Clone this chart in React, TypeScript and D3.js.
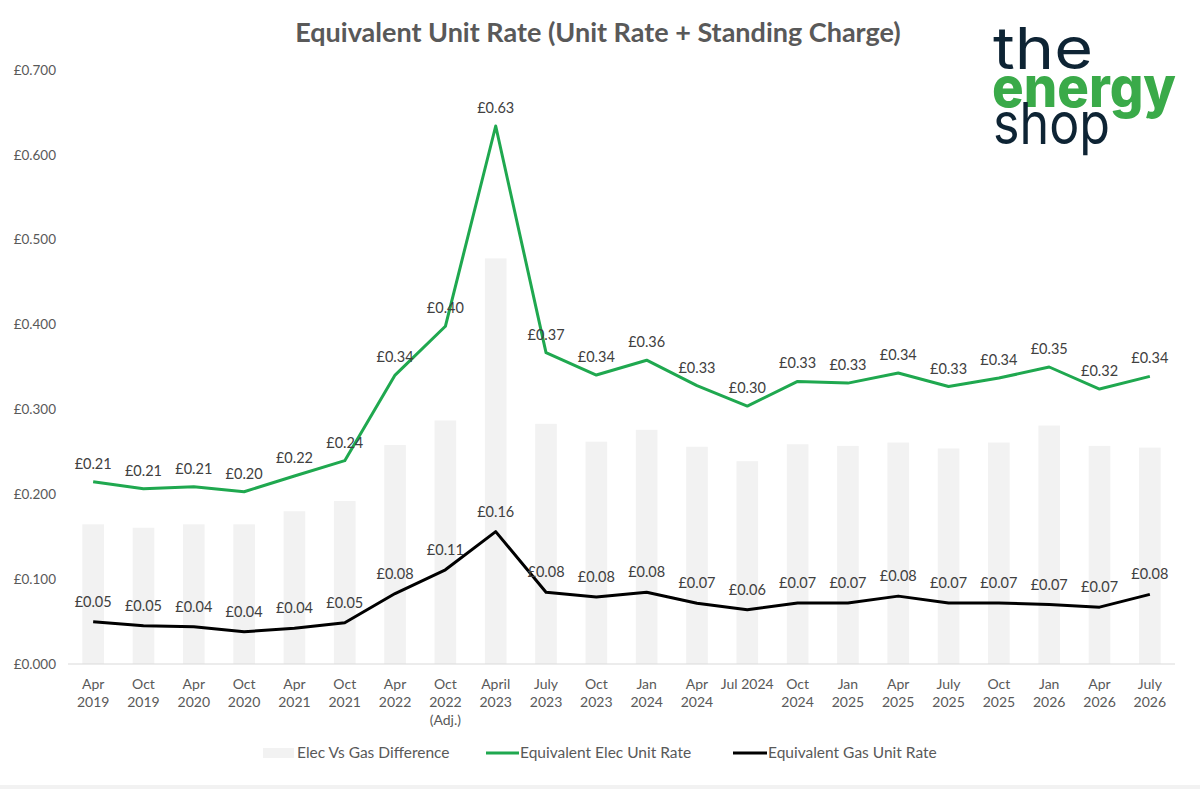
import React from "react";
import * as d3 from "d3";

const categories: string[][] = [
  ["Apr", "2019"], ["Oct", "2019"], ["Apr", "2020"], ["Oct", "2020"],
  ["Apr", "2021"], ["Oct", "2021"], ["Apr", "2022"], ["Oct", "2022", "(Adj.)"],
  ["April", "2023"], ["July", "2023"], ["Oct", "2023"], ["Jan", "2024"],
  ["Apr", "2024"], ["Jul 2024"], ["Oct", "2024"], ["Jan", "2025"],
  ["Apr", "2025"], ["July", "2025"], ["Oct", "2025"], ["Jan", "2026"],
  ["Apr", "2026"], ["July", "2026"],
];

const elecRate = [
  0.2148, 0.2066, 0.209, 0.203, 0.2215, 0.2396, 0.3405, 0.398, 0.634, 0.367, 0.3405,
  0.358, 0.328, 0.304, 0.333, 0.331, 0.343, 0.327, 0.337, 0.35, 0.324, 0.339,
];

const gasRate = [
  0.0499, 0.0452, 0.044, 0.038, 0.042, 0.0487, 0.083, 0.111, 0.156, 0.0845, 0.079,
  0.0845, 0.0715, 0.064, 0.072, 0.072, 0.08, 0.072, 0.072, 0.07, 0.067, 0.082,
];

const difference = [
  0.1646, 0.1606, 0.1646, 0.1646, 0.18, 0.192, 0.258, 0.287, 0.478, 0.283, 0.262,
  0.276, 0.256, 0.239, 0.259, 0.257, 0.261, 0.254, 0.261, 0.281, 0.257, 0.255,
];

const yTicks = [0, 0.1, 0.2, 0.3, 0.4, 0.5, 0.6, 0.7];

const GREEN = "#1fa84f";
const FONT = "Lato, 'Liberation Sans', sans-serif";

export default function App() {
  const width = 1200;
  const height = 789;
  const plot = { left: 68, right: 1175, top: 70, bottom: 664 };

  const x = d3
    .scaleBand<number>()
    .domain(d3.range(categories.length))
    .range([plot.left, plot.right])
    .paddingInner(0.57)
    .paddingOuter(0.285);
  const cx = (i: number) => (x(i) as number) + x.bandwidth() / 2;

  const y = d3.scaleLinear().domain([0, 0.7]).range([plot.bottom, plot.top]);

  const line = d3
    .line<number>()
    .x((_, i) => cx(i))
    .y((d) => y(d));

  const fmt = (v: number) => "£" + v.toFixed(2);

  return (
    <svg
      width={width}
      height={height}
      style={{ position: "absolute", left: 0, top: 0, background: "#fff" }}
      fontFamily={FONT}
    >
      <rect x={0} y={785} width={width} height={4} fill="#f2f2f2" />

      {/* title */}
      <text
        x={598}
        y={42}
        textAnchor="middle"
        fontSize={27}
        fontWeight={700}
        fill="#595959"
      >
        Equivalent Unit Rate (Unit Rate + Standing Charge)
      </text>

      {/* logo */}
      <g fontFamily="Inter, Roboto, sans-serif">
        <text x={993} y={69} fontSize={58} fill="#0e2434" textLength={100} lengthAdjust="spacingAndGlyphs">
          the
        </text>
        <text x={992} y={107} fontSize={56} fontWeight={800} fill="#3aaa49" textLength={184} lengthAdjust="spacingAndGlyphs">
          energy
        </text>
        <text x={993} y={144} fontSize={58} fill="#0e2434" textLength={117} lengthAdjust="spacingAndGlyphs">
          shop
        </text>
      </g>

      {/* y axis labels */}
      {yTicks.map((t) => (
        <text
          key={t}
          x={56}
          y={y(t)}
          dy="0.35em"
          textAnchor="end"
          fontSize={13.5}
          fill="#595959"
        >
          {"£" + t.toFixed(3)}
        </text>
      ))}

      {/* bars */}
      {difference.map((d, i) => (
        <rect
          key={i}
          x={x(i)}
          y={y(d)}
          width={x.bandwidth()}
          height={plot.bottom - y(d)}
          fill="#f2f2f2"
        />
      ))}

      <line x1={plot.left} x2={plot.right} y1={plot.bottom} y2={plot.bottom} stroke="#d9d9d9" strokeWidth={1.2} />

      {/* category labels */}
      {categories.map((lines, i) => (
        <text key={i} x={cx(i)} y={689} textAnchor="middle" fontSize={14} fill="#595959">
          {lines.map((l, j) => (
            <tspan key={j} x={cx(i)} dy={j === 0 ? 0 : 18}>
              {l}
            </tspan>
          ))}
        </text>
      ))}

      {/* lines */}
      <path d={line(elecRate) as string} fill="none" stroke={GREEN} strokeWidth={3} strokeLinejoin="round" />
      <path d={line(gasRate) as string} fill="none" stroke="#000" strokeWidth={3} strokeLinejoin="round" />

      {/* data labels */}
      {elecRate.map((v, i) => (
        <text key={"e" + i} x={cx(i)} y={y(v) - 13} textAnchor="middle" fontSize={14.5} fill="#404040">
          {fmt(v)}
        </text>
      ))}
      {gasRate.map((v, i) => (
        <text key={"g" + i} x={cx(i)} y={y(v) - 15} textAnchor="middle" fontSize={14.5} fill="#404040">
          {fmt(v)}
        </text>
      ))}

      {/* legend */}
      <g fontSize={15.5} fill="#595959">
        <rect x={263} y={748} width={31} height={10} fill="#f2f2f2" />
        <text x={297} y={758}>Elec Vs Gas Difference</text>
        <line x1={486} x2={519} y1={753} y2={753} stroke={GREEN} strokeWidth={3} />
        <text x={520} y={758}>Equivalent Elec Unit Rate</text>
        <line x1={733} x2={767} y1={753} y2={753} stroke="#000" strokeWidth={3} />
        <text x={768} y={758}>Equivalent Gas Unit Rate</text>
      </g>
    </svg>
  );
}
